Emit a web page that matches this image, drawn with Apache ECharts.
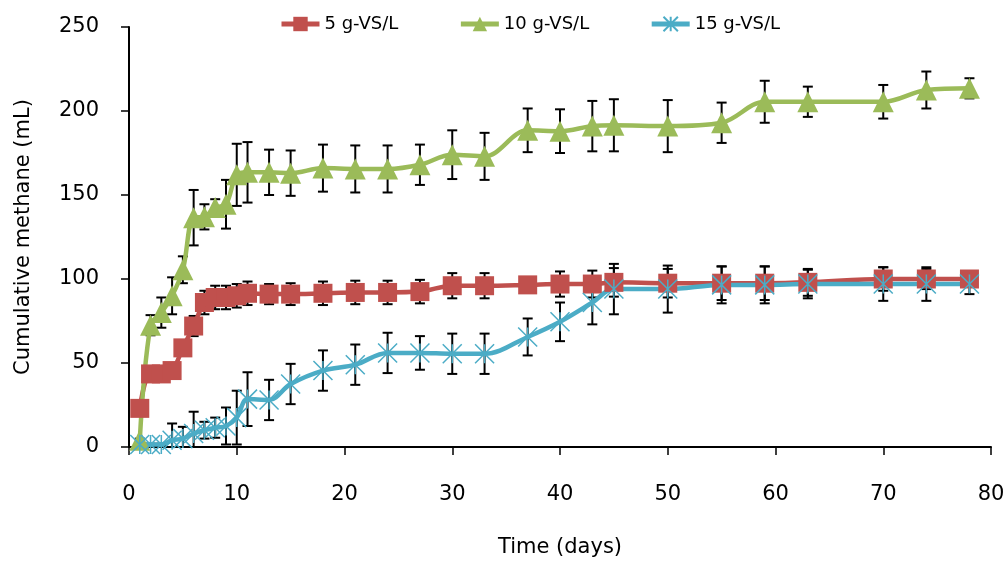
<!DOCTYPE html>
<html>
<head>
<meta charset="utf-8">
<script src="https://cdn.jsdelivr.net/npm/echarts@6/dist/echarts.min.js"></script>
<style>
  html, body { margin: 0; padding: 0; background: #fff; }
  #chart { width: 1008px; height: 563px; }
</style>
</head>
<body>
<div id="chart"></div>
<script>
// sampling days (shared by all three loadings)
const days = [1, 2, 3, 4, 5, 6, 7, 8, 9, 10, 11, 13, 15, 18, 21, 24, 27, 30, 33, 37, 40, 43, 45, 50, 55, 59, 63, 70, 74, 78];

const names = ['5 g-VS/L', '10 g-VS/L', '15 g-VS/L'];

// cumulative methane (mL)
const red = [23, 43.5, 43.5, 45.5, 59, 72, 86, 89, 89, 90, 91.5, 91, 91, 91.5, 92, 92, 92.5, 96, 96, 96.5, 97, 97, 98, 97.5, 97.5, 97.5, 98, 100, 100, 100];
const green = [4, 72.5, 80, 90, 105.5, 136.5, 137, 142.5, 144.5, 162, 163.5, 163.5, 163, 166, 165.5, 165.5, 168, 174, 173, 188.5, 188, 191, 191.5, 191, 193, 205.5, 205.5, 205.5, 212.5, 213.5];
const blue = [1.5, 1.5, 1.5, 4, 5, 8, 10, 11.5, 12.5, 17.5, 28.5, 28, 37.5, 45.5, 49, 56, 56, 55.5, 55.5, 65.5, 74.5, 86, 94, 94, 96.5, 96.5, 97, 97, 97, 97];

// +/- error
const redErr = [0.5, 0.5, 0.5, 0.5, 1, 6, 7, 7, 7, 7, 7, 6, 6.5, 7, 7, 7, 7, 7.5, 7.5, 1.5, 7.5, 8, 8.5, 8.5, 10, 10, 8, 7, 6, 4];
const greenErr = [1, 6, 9, 11, 8, 16.5, 7.5, 5, 14.5, 18.5, 18, 13.5, 13.5, 14, 14, 14, 12, 14.5, 14, 13, 13, 15, 15.5, 15.5, 12, 12.5, 9, 10, 11, 6];
const blueErr = [0.5, 0.5, 0.5, 10, 7, 13, 5, 6, 11, 16, 16, 12, 12, 12, 12, 12, 10, 12, 12, 11, 11.5, 13, 15, 14, 11, 11, 8.5, 10, 10, 6];

const xTicks = { min: 0, max: 80, interval: 10 };
const yTicks = { min: 0, max: 250, interval: 50 };

const colors = ['#C0504D', '#9BBB59', '#4BACC6'];
const FONT = 'DejaVu Sans';

function pairs(vals) {
  return days.map((d, i) => [d, vals[i]]);
}
// error bars stop at the plot floor, like the original
function errRows(vals, errs) {
  return days.map((d, i) => [d, Math.max(yTicks.min, vals[i] - errs[i]), vals[i] + errs[i]]);
}

function errorBars(params, api) {
  const x = api.value(0);
  const top = api.coord([x, api.value(2)]);
  const bot = api.coord([x, api.value(1)]);
  const w = 5;
  const st = { stroke: '#000', lineWidth: 2 };
  return {
    type: 'group',
    children: [
      { type: 'line', shape: { x1: top[0], y1: top[1], x2: bot[0], y2: bot[1] }, style: st },
      { type: 'line', shape: { x1: top[0] - w, y1: top[1], x2: top[0] + w, y2: top[1] }, style: st },
      { type: 'line', shape: { x1: bot[0] - w, y1: bot[1], x2: bot[0] + w, y2: bot[1] }, style: st }
    ]
  };
}

function lineSeries(name, vals, color, symbol, size, extraItem) {
  return {
    name: name,
    type: 'line',
    data: pairs(vals),
    smooth: 0.35,
    symbol: symbol,
    symbolSize: size,
    showAllSymbol: true,
    lineStyle: { color: color, width: 4.5 },
    itemStyle: Object.assign({ color: color }, extraItem || {}),
    z: 3
  };
}

function errSeries(vals, errs) {
  return {
    type: 'custom',
    renderItem: errorBars,
    data: errRows(vals, errs),
    z: 1,
    silent: true
  };
}

const chart = echarts.init(document.getElementById('chart'));
chart.setOption({
  animation: false,
  textStyle: { fontFamily: FONT },
  legend: {
    data: names,
    top: 10,
    left: 274,
    itemGap: 60,
    itemWidth: 38,
    itemHeight: 18,
    lineStyle: { width: 5 },
    textStyle: { fontFamily: FONT, fontSize: 18, color: '#000' }
  },
  grid: { left: 129, right: 17, top: 27, bottom: 116 },
  xAxis: {
    type: 'value',
    min: xTicks.min, max: xTicks.max, interval: xTicks.interval,
    name: 'Time (days)',
    nameLocation: 'middle',
    nameGap: 90,
    nameTextStyle: { fontFamily: FONT, fontSize: 21, color: '#000' },
    axisLine: { lineStyle: { color: '#000', width: 2 } },
    axisTick: { show: true, length: 8, lineStyle: { color: '#000', width: 1.5 } },
    axisLabel: { margin: 37, fontFamily: FONT, fontSize: 21, color: '#000' },
    splitLine: { show: false }
  },
  yAxis: {
    type: 'value',
    min: yTicks.min, max: yTicks.max, interval: yTicks.interval,
    name: 'Cumulative methane (mL)',
    nameLocation: 'middle',
    nameGap: 95,
    nameTextStyle: { fontFamily: FONT, fontSize: 21, color: '#000' },
    axisLine: { show: true, lineStyle: { color: '#000', width: 2 } },
    axisTick: { show: true, length: 8, lineStyle: { color: '#000', width: 1.5 } },
    axisLabel: { margin: 30, fontFamily: FONT, fontSize: 21, color: '#000' },
    splitLine: { show: false }
  },
  series: [
    errSeries(red, redErr),
    errSeries(green, greenErr),
    errSeries(blue, blueErr),
    lineSeries(names[0], red, colors[0], 'rect', 19),
    lineSeries(names[1], green, colors[1], 'triangle', 21),
    lineSeries(names[2], blue, colors[2], 'path://M0,0L10,10M10,0L0,10M5,0L5,10', 19,
      { borderColor: colors[2], borderWidth: 1.5 })
  ]
});
</script>
</body>
</html>
